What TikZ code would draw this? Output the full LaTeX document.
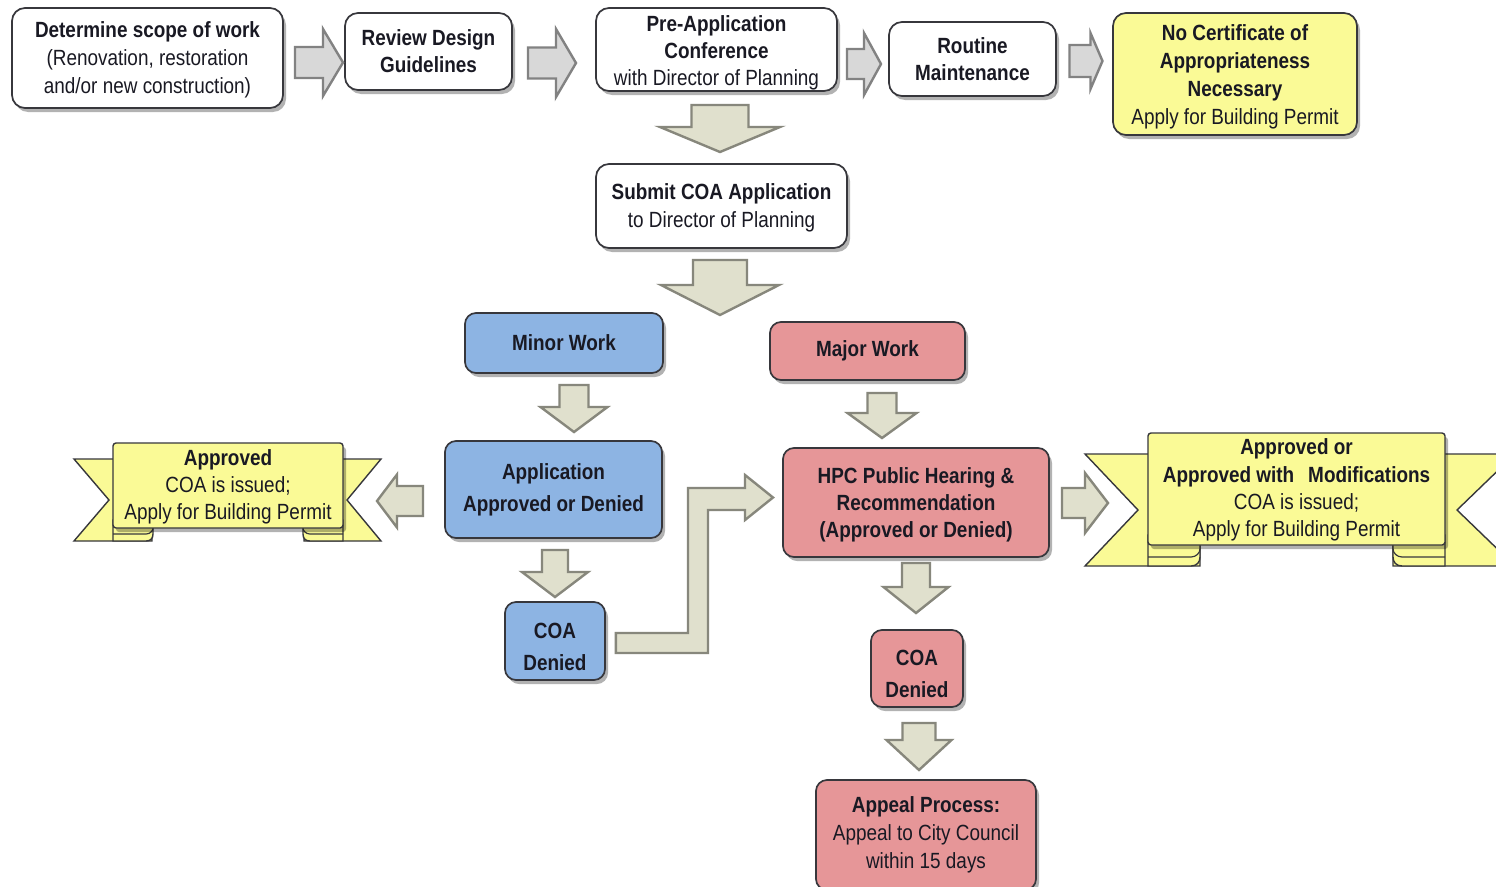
\documentclass[tikz,border=0pt]{standalone}
\usepackage{fontspec}
\setmainfont{Liberation Sans}[FakeStretch=0.86]
\usetikzlibrary{shadows,calc}
\definecolor{bxborder}{RGB}{55,55,60}
\definecolor{yel}{RGB}{250,250,150}
\definecolor{blu}{RGB}{141,180,227}
\definecolor{redb}{RGB}{230,150,152}
\definecolor{arrf}{RGB}{224,224,205}
\definecolor{arrd}{RGB}{135,135,124}
\definecolor{arrg}{RGB}{216,216,216}
\definecolor{arrgd}{RGB}{130,130,130}
\definecolor{txt}{RGB}{25,25,35}
\tikzset{
  pics/blk/.style n args={4}{code={
    \path[blkstyle] (-#1/2,-#3/2) -- ({#1/2-#2},-#3/2) -- ({#1/2-#2},-#4/2) -- (#1/2,0)
      -- ({#1/2-#2},#4/2) -- ({#1/2-#2},#3/2) -- (-#1/2,#3/2) -- cycle;
  }},
  blkstyle/.style={},
  arrk/.style={fill=arrf, draw=arrd, line width=2.4pt, line join=miter},
  arrgr/.style={fill=arrg, draw=arrgd, line width=2.4pt, line join=miter},
  shad/.style={drop shadow={shadow xshift=3pt, shadow yshift=-4pt, opacity=0.3, fill=black}},
  box/.style={draw=bxborder, line width=1.7pt, rounded corners=13pt, align=center,
    inner sep=0pt, text=txt, font=\fontsize{22}{27}\selectfont, shad},
  wbox/.style={box, fill=white},
  ybox/.style={box, fill=yel},
  bbox/.style={box, fill=blu, rounded corners=11pt},
  rbox/.style={box, fill=redb, rounded corners=11pt},
  txtnode/.style={align=center, inner sep=0pt, text=txt, font=\fontsize{22}{28}\selectfont},
  rib/.style={fill=yel, draw=bxborder, line width=1.4pt, line join=miter},
  ribline/.style={draw=bxborder, line width=1.2pt},
  ribpanel/.style={rib, rounded corners=3pt, inner sep=0pt, shad},
}
\begin{document}
\begin{tikzpicture}[x=1pt,y=-1pt]
\useasboundingbox[fill=white] (0,0) rectangle (1496,886);

% ---------- top row ----------
\node[wbox, minimum width=271pt, minimum height=100pt] (scope) at (147.5,58) {};
\node[txtnode] (scopeT) at ([yshift=-2pt]scope.center)
  {{\bfseries Determine scope of work}\\(Renovation, restoration\\and/or new construction)};
\node[wbox, minimum width=167pt, minimum height=77pt] (review) at (428.5,51.5)
  {\bfseries Review Design\\\bfseries Guidelines};
\node[wbox, minimum width=241pt, minimum height=83pt] (preapp) at (716.5,49.5) {};
\node[txtnode, font=\fontsize{22}{27}\selectfont] (preappT) at ([yshift=-3pt]preapp.center)
  {{\bfseries Pre-Application}\\{\bfseries Conference}\\with Director of Planning};
\node[wbox, minimum width=167pt, minimum height=74pt] (routine) at (972.5,59)
  {\bfseries Routine\\\bfseries Maintenance};
\node[ybox, minimum width=244pt, minimum height=122pt] (nocert) at (1235,74) {};
\node[txtnode] (nocertT) at ([yshift=-3pt]nocert.center)
  {{\bfseries No Certificate of}\\{\bfseries Appropriateness}\\{\bfseries Necessary}\\Apply for Building Permit};
\node[wbox, minimum width=251pt, minimum height=84pt] (submit) at (721.5,206) {};
\node[txtnode] (submitT) at ([yshift=-2pt]submit.center)
  {{\bfseries Submit COA Application}\\to Director of Planning};

% ---------- minor / major ----------
\node[bbox, minimum width=198pt, minimum height=60pt] (minor) at (564,343) {\bfseries Minor Work};
\node[rbox, minimum width=195pt, minimum height=58pt] (major) at (867.5,351) {\bfseries Major Work};
\node[bbox, minimum width=217pt, minimum height=97pt, font=\fontsize{22}{32}\selectfont] (appl) at (553.5,489.5)
  {\bfseries Application\\\bfseries Approved or Denied};
\node[rbox, minimum width=266pt, minimum height=109pt] (hpc) at (916,502.5) {};
\node[txtnode, font=\fontsize{22}{27}\selectfont] (hpcT) at ([yshift=-2pt]hpc.center)
  {{\bfseries HPC Public Hearing \&}\\{\bfseries Recommendation}\\{\bfseries (Approved or Denied)}};
\node[bbox, minimum width=100pt, minimum height=78pt] (coaB) at (555,641) {};
\node[txtnode, font=\fontsize{22}{32}\selectfont] (coaBt) at ([yshift=-6pt]coaB.center) {\bfseries COA\\\bfseries Denied};
\node[rbox, minimum width=92pt, minimum height=77pt] (coaR) at (917,668.5) {};
\node[txtnode, font=\fontsize{22}{32}\selectfont] (coaRt) at ([yshift=-5pt]coaR.center) {\bfseries COA\\\bfseries Denied};
\node[rbox, minimum width=220pt, minimum height=110pt, font=\fontsize{22}{28}\selectfont] (appeal) at (926,835)
  {{\bfseries Appeal Process:}\\Appeal to City Council\\within 15 days};

% ---------- left ribbon ----------
\path[rib] (74,459) -- (152,459) -- (152,541) -- (74,541) -- (109,500) -- cycle;
\path[rib] (381,459) -- (304,459) -- (304,541) -- (381,541) -- (347,500) -- cycle;
\path[rib] (113,520) -- (113,541) -- (146,541) .. controls (151,541) and (153,538) .. (153,534) -- (153,520) -- cycle;
\draw[ribline] (113,534) -- (146,534) .. controls (150,534) and (153,531) .. (153,528);
\path[rib] (343,520) -- (343,541) -- (310,541) .. controls (305,541) and (303,538) .. (303,534) -- (303,520) -- cycle;
\draw[ribline] (343,534) -- (310,534) .. controls (306,534) and (303,531) .. (303,528);
\node[ribpanel, minimum width=230pt, minimum height=85pt] (lrib) at (228,485.5) {};
\node[txtnode, font=\fontsize{22}{27}\selectfont] (lribT) at ([yshift=-1pt]lrib.center)
  {{\bfseries Approved}\\COA is issued;\\Apply for Building Permit};

% ---------- right ribbon ----------
\path[rib] (1085,454) -- (1200,454) -- (1200,566) -- (1085,566) -- (1138,510) -- cycle;
\path[rib] (1515,454) -- (1393,454) -- (1393,566) -- (1515,566) -- (1457,510) -- cycle;
\path[rib] (1148,535) -- (1148,566) -- (1191,566) .. controls (1197,566) and (1200,562) .. (1200,557) -- (1200,535) -- cycle;
\draw[ribline] (1148,557) -- (1191,557) .. controls (1196,557) and (1200,553) .. (1200,549);
\path[rib] (1445,535) -- (1445,566) -- (1402,566) .. controls (1396,566) and (1393,562) .. (1393,557) -- (1393,535) -- cycle;
\draw[ribline] (1445,557) -- (1402,557) .. controls (1397,557) and (1393,553) .. (1393,549);
\node[ribpanel, minimum width=297pt, minimum height=112pt] (rrib) at (1296.5,489) {};
\node[txtnode, font=\fontsize{22}{27.3}\selectfont] (rribT) at ([yshift=-1pt]rrib.center)
  {{\bfseries Approved or}\\{\bfseries Approved with\hspace{14pt}Modifications}\\COA is issued;\\Apply for Building Permit};

% ---------- block arrows ----------
\pic[blkstyle/.style=arrgr] at (319,62.5) {blk={48}{20}{31}{67}};
\pic[blkstyle/.style=arrgr] at (552,63) {blk={48}{20}{31}{68}};
\pic[blkstyle/.style=arrgr] at (864,64) {blk={34}{17}{30}{62}};
\pic[blkstyle/.style=arrgr] at (1086,61) {blk={33}{12}{32}{56}};
\pic[blkstyle/.style=arrk, rotate=-90] at (720,128.5) {blk={47}{25}{57}{120}};
\pic[blkstyle/.style=arrk, rotate=-90] at (720,287.5) {blk={55}{30}{54}{118}};
\pic[blkstyle/.style=arrk, rotate=-90] at (574,408.5) {blk={47}{25}{29}{67}};
\pic[blkstyle/.style=arrk, rotate=-90] at (882,415.5) {blk={45}{25}{29}{69}};
\pic[blkstyle/.style=arrk, rotate=180] at (400,501) {blk={46}{20}{30}{53}};
\pic[blkstyle/.style=arrk, rotate=-90] at (555,573.5) {blk={47}{25}{26}{66}};
\pic[blkstyle/.style=arrk] at (1085,503) {blk={46}{23}{30}{60}};
\pic[blkstyle/.style=arrk, rotate=-90] at (916,588) {blk={50}{26}{28}{65}};
\pic[blkstyle/.style=arrk, rotate=-90] at (919,746.5) {blk={47}{30}{33}{65}};

% elbow arrow from COA Denied (minor) to HPC
\path[arrk] ([xshift=10pt, yshift=-12pt]coaB.east) -- (708,653) -- (708,510) -- (745,510) -- (745,520)
  -- (773,497.5) -- (745,475) -- (745,488) -- (688,488) -- (688,633)
  -- ([xshift=10pt, yshift=8pt]coaB.east) -- cycle;
\end{tikzpicture}
\end{document}
